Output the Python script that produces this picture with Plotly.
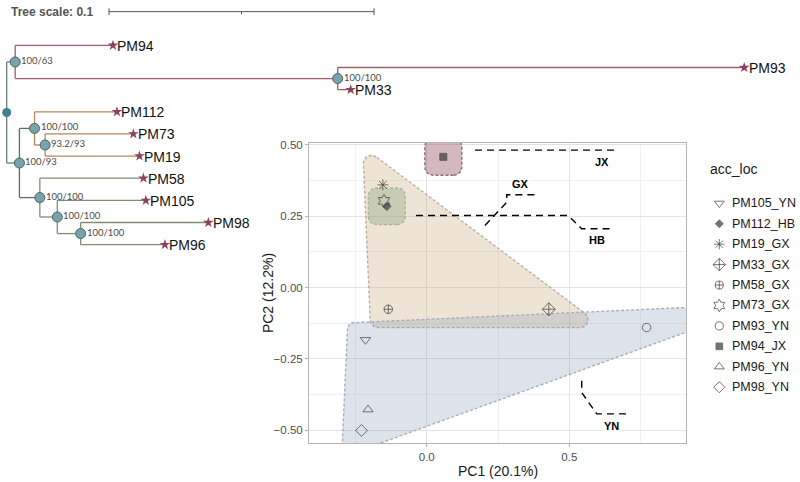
import math
import plotly.graph_objects as go

FONT = "Liberation Sans, Arial, sans-serif"

# ---------------- PCA data ----------------
samples = ["PM105_YN", "PM112_HB", "PM19_GX", "PM33_GX", "PM58_GX",
           "PM73_GX", "PM93_YN", "PM94_JX", "PM96_YN", "PM98_YN"]
pc1 = [-0.215, -0.140, -0.154, 0.428, -0.135, -0.150, 0.771, 0.058, -0.206, -0.229]
pc2 = [-0.183, 0.284, 0.359, -0.076, -0.076, 0.303, -0.140, 0.457, -0.427, -0.500]
groups = ["GX", "HB", "JX", "YN"]
pc1_label = "PC1 (20.1%)"
pc2_label = "PC2 (12.2%)"
x_ticks = [0.0, 0.5]
y_ticks = [-0.50, -0.25, 0.00, 0.25, 0.50]

# ---------------- tree data ----------------
leaf_order = ["PM94", "PM93", "PM33", "PM112", "PM73", "PM19", "PM58", "PM105", "PM98", "PM96"]
edge_parent = ["root", "n1", "n1", "n2", "n2", "root", "n3", "n4", "n4", "n5", "n5",
               "n3", "n6", "n6", "n7", "n7", "n8", "n8"]
edge_child = ["n1", "PM94", "n2", "PM93", "PM33", "n3", "n4", "PM112", "n5", "PM73", "PM19",
              "n6", "PM58", "n7", "PM105", "n8", "PM98", "PM96"]
edge_length = [0.0032, 0.0369, 0.1217, 0.1534, 0.0049, 0.0048, 0.0057, 0.0311, 0.0040,
               0.0333, 0.0356, 0.0077, 0.0391, 0.0066, 0.0334, 0.0088, 0.0482, 0.0318]
support_nodes = ["n1", "n2", "n3", "n4", "n5", "n6", "n7", "n8"]
support_vals = ["100/63", "100/100", "100/93", "100/100", "93.2/93", "100/100", "100/100", "100/100"]
tree_scale = 0.1

# ---------------- styles ----------------
symbols = ["triangle-down-open", "diamond", "asterisk-open", "diamond-cross-open",
           "circle-cross-open", "hexagram-open", "circle-open", "square",
           "triangle-up-open", "diamond-open"]
msizes = [9, 6.5, 9, 10, 8.5, 10, 8.5, 7, 9, 9]
PT_COL = "#3a3a3a"
grp_fill = {"GX": "rgba(200,165,115,0.30)", "HB": "rgba(120,155,110,0.32)",
            "JX": "rgba(140,70,85,0.38)", "YN": "rgba(130,150,180,0.27)"}
grp_line = {"GX": "#b8ada0", "HB": "#a9b5a0", "JX": "#8e6f77", "YN": "#a6aebb"}
clade_col = {"root": "#6b7b80", "n3": "#5f6b6b", "n1": "#a35d66", "n2": "#a35d66",
             "n4": "#b9865e", "n5": "#b9865e", "n6": "#7f8f74", "n7": "#7f8f74", "n8": "#7f8f74"}

# PCA panel geometry (pixels) and ranges
PX_L, PX_R, PX_T, PX_B = 309, 686, 140, 443
XR = [-0.413, 0.909]
YR = [-0.545, 0.506]
W, H = 800, 482

# Tree axis geometry
TREE_PX_PER_UNIT = 2650.0
TREE_ROOT_PX = 6.7
LEAF_Y0, LEAF_DY = 41.7, 22.33

fig = go.Figure()


def to_px(x, y):
    return (PX_L + (x - XR[0]) / (XR[1] - XR[0]) * (PX_R - PX_L),
            PX_B - (y - YR[0]) / (YR[1] - YR[0]) * (PX_B - PX_T))


def from_px(px, py):
    return (XR[0] + (px - PX_L) / (PX_R - PX_L) * (XR[1] - XR[0]),
            YR[0] + (PX_B - py) / (PX_B - PX_T) * (YR[1] - YR[0]))


def convex_hull(pts):
    pts = sorted(set(pts))
    if len(pts) <= 1:
        return pts

    def cross(o, a, b):
        return (a[0] - o[0]) * (b[1] - o[1]) - (a[1] - o[1]) * (b[0] - o[0])
    lower, upper = [], []
    for p in pts:
        while len(lower) >= 2 and cross(lower[-2], lower[-1], p) <= 0:
            lower.pop()
        lower.append(p)
    for p in reversed(pts):
        while len(upper) >= 2 and cross(upper[-2], upper[-1], p) <= 0:
            upper.pop()
        upper.append(p)
    return lower[:-1] + upper[:-1]


def normals_of(poly):
    n = len(poly)
    out = []
    for i in range(n):
        p, q = poly[i], poly[(i + 1) % n]
        dx, dy = q[0] - p[0], q[1] - p[1]
        L = math.hypot(dx, dy)
        out.append((dy / L, -dx / L))
    return out


def hull_outline(pts, expand=18.5, radius=8.0, n_arc=14):
    hull = convex_hull(pts)
    d1 = expand - radius
    if len(hull) == 1:
        cx, cy = hull[0]
        poly = [(cx + d1, cy - d1), (cx + d1, cy + d1), (cx - d1, cy + d1), (cx - d1, cy - d1)]
    else:
        nr = normals_of(hull)
        poly = []
        for i in range(len(hull)):
            na, nb = nr[i - 1], nr[i]
            k = d1 / (1 + na[0] * nb[0] + na[1] * nb[1])
            poly.append((hull[i][0] + k * (na[0] + nb[0]), hull[i][1] + k * (na[1] + nb[1])))
    nr = normals_of(poly)
    out = []
    for i in range(len(poly)):
        na, nb = nr[i - 1], nr[i]
        a = math.atan2(na[1], na[0])
        b = math.atan2(nb[1], nb[0])
        if b < a:
            b += 2 * math.pi
        for j in range(n_arc + 1):
            t = a + (b - a) * j / n_arc
            out.append((poly[i][0] + radius * math.cos(t), poly[i][1] + radius * math.sin(t)))
    out.append(out[0])
    return out


# ---------- hulls ----------
for g in groups:
    pts = []
    for s, x, y in zip(samples, pc1, pc2):
        if s.endswith("_" + g):
            px, py = to_px(x, y)
            pts.append((px, -py))
    outline = hull_outline(pts)
    hx, hy = [], []
    for px, ny in outline:
        dx, dy = from_px(px, -ny)
        hx.append(dx)
        hy.append(dy)
    fig.add_trace(go.Scatter(x=hx, y=hy, mode="lines", fill="toself",
                             fillcolor=grp_fill[g],
                             line=dict(color=grp_line[g], width=1.4, dash="3px,2px"),
                             hoverinfo="skip", xaxis="x", yaxis="y"))

# ---------- points ----------
fig.add_trace(go.Scatter(x=pc1, y=pc2, mode="markers", text=samples,
                         marker=dict(symbol=symbols, size=msizes, color=PT_COL,
                                     line=dict(color=PT_COL, width=1)),
                         xaxis="x", yaxis="y"))

# ---------- connectors & group labels (pixel overlay) ----------
conn = {
    "JX": ([475, 615], [147.3, 147.3], (601.7, 159.3)),
    "GX": ([485, 503, 506.7, 506.7, 536], [223.3, 204, 200, 192.3, 192.3], (520.7, 181.7)),
    "HB": ([416, 568.3, 581.7, 613.3], [213.3, 213.3, 226.7, 226.7], (597.3, 238.3)),
    "YN": ([581.7, 581.7, 596.7, 626.7], [380, 391.7, 413.3, 413.3], (611.7, 425.7)),
}
for g, (cx, cy, (lx, ly)) in conn.items():
    fig.add_trace(go.Scatter(x=cx, y=cy, mode="lines",
                             line=dict(color="black", width=1.4, dash="7px,5px"),
                             hoverinfo="skip", xaxis="x3", yaxis="y3"))
    fig.add_annotation(x=lx, y=ly, xref="x3", yref="y3", text="<b>%s</b>" % g,
                       showarrow=False, font=dict(family=FONT, size=11, color="black"),
                       bgcolor="white", borderpad=1)

# ---------- legend (manual) ----------
fig.add_annotation(x=708, y=166.7, xref="x3", yref="y3", text="acc_loc", xanchor="left",
                   showarrow=False, font=dict(family=FONT, size=14, color="#1a1a1a"))
leg_y = [201 + 20.6 * k for k in range(len(samples))]
fig.add_trace(go.Scatter(x=[719.3] * len(samples), y=leg_y, mode="markers",
                         marker=dict(symbol=symbols, size=[m * 0.95 for m in msizes],
                                     color=PT_COL, line=dict(color=PT_COL, width=1)),
                         hoverinfo="skip", xaxis="x3", yaxis="y3"))
for s, yy in zip(samples, leg_y):
    fig.add_annotation(x=730, y=yy, xref="x3", yref="y3", text=s, xanchor="left",
                       showarrow=False, font=dict(family=FONT, size=12.5, color="#1a1a1a"))

# axis titles
fig.add_annotation(x=497.5, y=470.7, xref="x3", yref="y3", text=pc1_label, showarrow=False,
                   font=dict(family=FONT, size=14, color="#1a1a1a"))
fig.add_annotation(x=268, y=291.5, xref="x3", yref="y3", text=pc2_label, showarrow=False,
                   textangle=-90, font=dict(family=FONT, size=14, color="#1a1a1a"))

# ---------- tree ----------
children = {}
for p, c, l in zip(edge_parent, edge_child, edge_length):
    children.setdefault(p, []).append((c, l))
xpos = {"root": 0.0}
ypos = {}


def walk(n):
    if n in leaf_order:
        ypos[n] = leaf_order.index(n)
        return
    for c, l in children[n]:
        xpos[c] = xpos[n] + l
        walk(c)
    ys = [ypos[c] for c, _ in children[n]]
    ypos[n] = (min(ys) + max(ys)) / 2


walk("root")

seg = {}
for p, c in zip(edge_parent, edge_child):
    col = clade_col[p]
    sx, sy = seg.setdefault(col, ([], []))
    sx += [xpos[p], xpos[c], None]
    sy += [ypos[c], ypos[c], None]
for n, ch in children.items():
    col = clade_col[n]
    ys = [ypos[c] for c, _ in ch]
    sx, sy = seg.setdefault(col, ([], []))
    sx += [xpos[n], xpos[n], None]
    sy += [min(ys), max(ys), None]
for col, (sx, sy) in seg.items():
    fig.add_trace(go.Scatter(x=sx, y=sy, mode="lines", line=dict(color=col, width=1.3),
                             hoverinfo="skip", xaxis="x2", yaxis="y2"))

# stars at tips + labels
fig.add_trace(go.Scatter(x=[xpos[l] for l in leaf_order], y=[ypos[l] for l in leaf_order],
                         mode="markers", marker=dict(symbol="star", size=8, color="#8e4060",
                                                     line=dict(width=0)),
                         hoverinfo="skip", xaxis="x2", yaxis="y2"))
for l in leaf_order:
    fig.add_annotation(x=xpos[l], y=ypos[l], xref="x2", yref="y2", text=l, xanchor="left",
                       xshift=3.5, yshift=-0.5, showarrow=False, borderpad=0,
                       font=dict(family=FONT, size=14, color="#111111"))

# internal node circles
fig.add_trace(go.Scatter(x=[xpos[n] for n in support_nodes], y=[ypos[n] for n in support_nodes],
                         mode="markers", marker=dict(symbol="circle", size=10, color="#78a3aa",
                                                     line=dict(color="#45666c", width=1)),
                         hoverinfo="skip", xaxis="x2", yaxis="y2"))
fig.add_trace(go.Scatter(x=[xpos["root"]], y=[ypos["root"]], mode="markers",
                         marker=dict(symbol="circle", size=9, color="#3f808b"),
                         hoverinfo="skip", xaxis="x2", yaxis="y2", cliponaxis=False))
for n, v in zip(support_nodes, support_vals):
    fig.add_annotation(x=xpos[n], y=ypos[n], xref="x2", yref="y2", text=v, xanchor="left",
                       xshift=5, yshift=1.5, showarrow=False, borderpad=0,
                       font=dict(family="Lato, " + FONT, size=9.5, color="#4a4a4a"))

# tree scale bar
sb_x0 = (109 - TREE_ROOT_PX) / TREE_PX_PER_UNIT
sb_y = (7.7 - LEAF_Y0) / LEAF_DY
tk = 3.5 / LEAF_DY
fig.add_trace(go.Scatter(
    x=[sb_x0, sb_x0 + tree_scale, None, sb_x0, sb_x0, None,
       sb_x0 + tree_scale, sb_x0 + tree_scale, None,
       sb_x0 + tree_scale / 2, sb_x0 + tree_scale / 2],
    y=[sb_y, sb_y, None, sb_y - tk, sb_y + tk, None, sb_y - tk, sb_y + tk, None,
       sb_y, sb_y + tk * 0.8],
    mode="lines", line=dict(color="#555555", width=1), hoverinfo="skip",
    xaxis="x2", yaxis="y2"))
fig.add_annotation(x=9, y=7.7, xref="x3", yref="y3", text="<b>Tree scale: %g</b>" % tree_scale,
                   xanchor="left", showarrow=False,
                   font=dict(family=FONT, size=12, color="#555555"))

# ---------- layout ----------
blank = dict(visible=False, showgrid=False, zeroline=False, fixedrange=True)
fig.update_layout(
    width=W, height=H, margin=dict(l=0, r=0, t=0, b=0),
    paper_bgcolor="white", plot_bgcolor="rgba(0,0,0,0)", showlegend=False,
    xaxis=dict(domain=[PX_L / W, PX_R / W], range=XR, tickvals=x_ticks, tickformat=".1f",
               showgrid=True, gridcolor="#e3e3e3", gridwidth=1,
               minor=dict(tickvals=[-0.25, 0.25, 0.75], showgrid=True, gridcolor="#f0f0f0",
                          gridwidth=0.6),
               zeroline=False, showline=True, mirror=True, linecolor="#b3b3b3", linewidth=1,
               ticks="outside", ticklen=3, tickcolor="#b3b3b3",
               tickfont=dict(family=FONT, size=11.5, color="#4d4d4d"), anchor="y"),
    yaxis=dict(domain=[1 - PX_B / H, 1 - PX_T / H], range=YR, tickvals=y_ticks, tickformat=".2f",
               showgrid=True, gridcolor="#e3e3e3", gridwidth=1,
               minor=dict(tickvals=[-0.375, -0.125, 0.125, 0.375], showgrid=True,
                          gridcolor="#f0f0f0", gridwidth=0.6),
               zeroline=False, showline=True, mirror=True, linecolor="#b3b3b3", linewidth=1,
               ticks="outside", ticklen=3, tickcolor="#b3b3b3",
               tickfont=dict(family=FONT, size=11.5, color="#4d4d4d"), anchor="x"),
    xaxis2=dict(domain=[0, 1], range=[-TREE_ROOT_PX / TREE_PX_PER_UNIT,
                                      (W - TREE_ROOT_PX) / TREE_PX_PER_UNIT],
                anchor="y2", **blank),
    yaxis2=dict(domain=[0, 1], range=[(H - LEAF_Y0) / LEAF_DY, -LEAF_Y0 / LEAF_DY],
                anchor="x2", **blank),
    xaxis3=dict(domain=[0, 1], range=[0, W], anchor="y3", **blank),
    yaxis3=dict(domain=[0, 1], range=[H, 0], anchor="x3", **blank),
)

fig.write_html("out.html", config={"displayModeBar": False},
               post_script="document.body.style.margin='0';document.body.style.overflow='hidden';")
